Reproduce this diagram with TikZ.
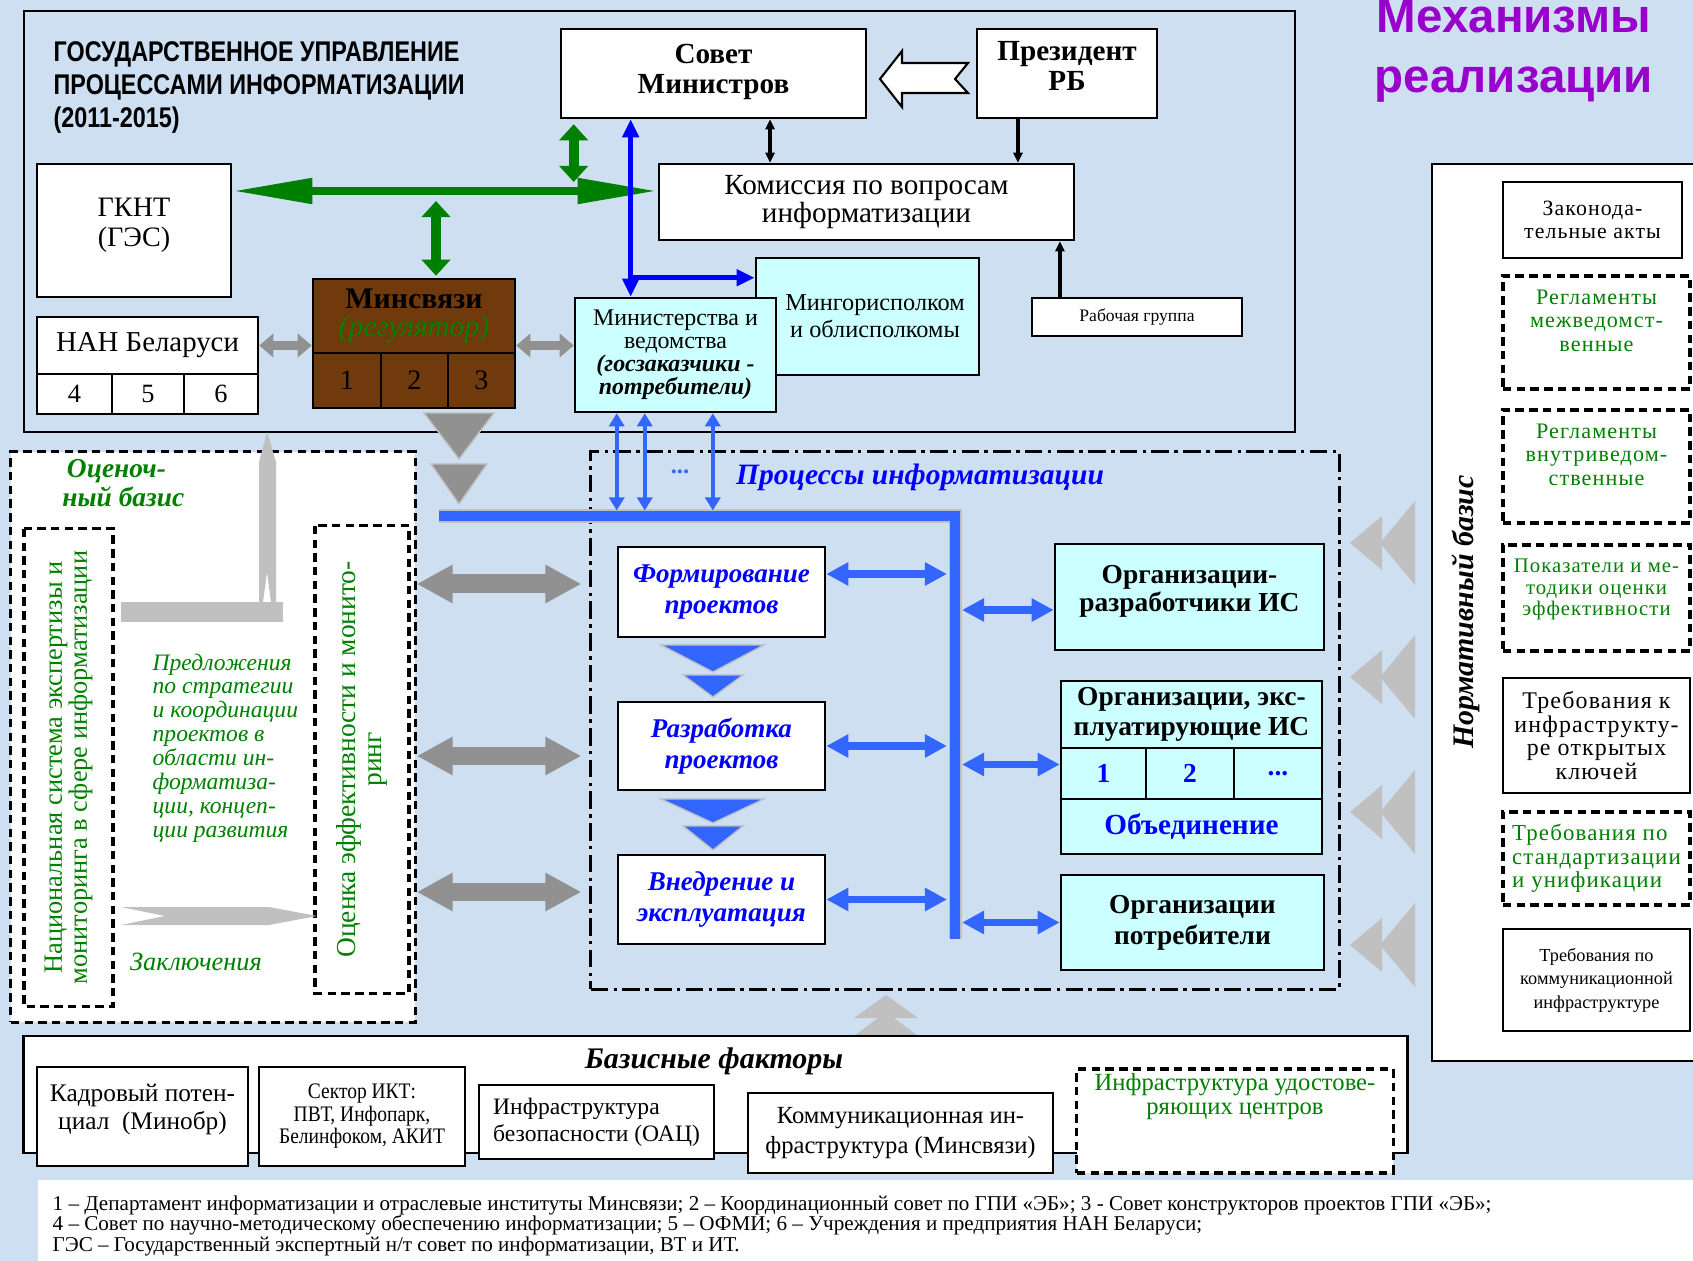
\documentclass[tikz,border=0pt]{standalone}
\usepackage{fontspec}
\setmainfont{Liberation Serif}
\newfontfamily\arialfont{Liberation Sans}
\newfontfamily\narrowsans[FakeStretch=0.82]{Liberation Sans}
\newfontfamily\narrowserif[FakeStretch=0.88]{Liberation Serif}
\newfontfamily\spacedserif[LetterSpace=5]{Liberation Serif}
\usetikzlibrary{arrows.meta}
\definecolor{bgblue}{RGB}{206,223,242}
\definecolor{cyanbox}{RGB}{204,255,255}
\definecolor{dgreen}{RGB}{0,128,0}
\definecolor{pblue}{RGB}{0,0,255}
\definecolor{lblue}{RGB}{51,102,255}
\definecolor{minbrown}{RGB}{112,58,12}
\definecolor{purp}{RGB}{153,0,204}
\definecolor{dgray}{RGB}{145,145,145}
\definecolor{lgray}{RGB}{192,192,192}
\begin{document}
\begin{tikzpicture}[x=0.01cm, y=-0.01cm,
  box/.style={draw, line width=0.7pt, fill=white, align=center, inner sep=1pt},
  cbox/.style={box, fill=cyanbox},
  dbox/.style={box, dash pattern=on 2.4pt off 1.5pt, line width=0.9pt},
  garr/.style={draw=dgreen, line width=2.3pt, {Triangle[length=8mm,width=2.4mm]}-{Triangle[length=8mm,width=2.4mm]}},
  gvarr/.style={draw=dgreen, line width=2.8pt, {Triangle[length=1.6mm,width=2.8mm]}-{Triangle[length=1.6mm,width=2.8mm]}},
  grarr/.style={draw=dgray, line width=2.8pt, {Triangle[length=1.4mm,width=2.3mm]}-{Triangle[length=1.4mm,width=2.3mm]}},
  bgarr/.style={draw=dgray, line width=5.4pt, {Triangle[length=3.6mm,width=3.6mm]}-{Triangle[length=3.6mm,width=3.6mm]}},
  sarr/.style={draw=lblue, line width=1.2pt, {Triangle[length=1.3mm,width=1.5mm]}-{Triangle[length=1.3mm,width=1.5mm]}},
  parr/.style={draw=lblue, line width=2pt, {Triangle[length=2.2mm,width=2.2mm]}-{Triangle[length=2.2mm,width=2.2mm]}},
  karr/.style={line width=0.9pt, -{Triangle[length=1mm,width=0.9mm]}}]
\fill[bgblue] (0,0) rectangle (1693,1261);
\useasboundingbox (0,0) rectangle (1693,1261);
\fill[white] (38,1180) rectangle (1693,1261);
\draw[line width=0.7pt] (24,11) rectangle (1295,432);
\node[anchor=north west, inner sep=0, align=left, font=\narrowsans\bfseries\fontsize{8.1}{9.4}\selectfont] (gtitle) at (53,41) {ГОСУДАРСТВЕННОЕ УПРАВЛЕНИЕ\\ПРОЦЕССАМИ ИНФОРМАТИЗАЦИИ\\(2011-2015)};
\node[anchor=north, inner sep=0, align=center, text=purp, font=\arialfont\bfseries\fontsize{13.5}{17}\selectfont] (mech) at (1514,-1) {Механизмы\\реализации};
\node[box, minimum width=3.05cm, minimum height=0.89cm, font=\bfseries\fontsize{8.3}{8.5}\selectfont] (sov) at (713.5,73.5) {Совет\\Министров\\[-2.1mm]};
\node[box, minimum width=1.8cm, minimum height=0.89cm, font=\bfseries\fontsize{8.3}{8.5}\selectfont] (pres) at (1067,73.5) {Президент\\РБ\\[-1.5mm]};
\node[box, minimum width=4.15cm, minimum height=0.76cm, font=\fontsize{8.3}{8}\selectfont] (kom) at (866.5,202) {Комиссия по вопросам\\информатизации};
\node[box, minimum width=2.1cm, minimum height=0.38cm, font=\fontsize{5}{6}\selectfont] (rab) at (1137,317) {Рабочая группа};
\node[box, minimum width=1.94cm, minimum height=1.33cm, font=\fontsize{8}{8.5}\selectfont] (gknt) at (134,230.5) {ГКНТ\\(ГЭС)\\[-1.4mm]};
\node[box, minimum width=2.21cm, minimum height=0.57cm, font=\fontsize{8.2}{9}\selectfont] (nan) at (147.5,345.5) {НАН Беларуси};
\node[box, minimum width=0.75cm, minimum height=0.4cm, font=\fontsize{7.5}{8}\selectfont] (n4) at (74.5,394) {4};
\node[box, minimum width=0.72cm, minimum height=0.4cm, font=\fontsize{7.5}{8}\selectfont] (n5) at (148,394) {5};
\node[box, minimum width=0.74cm, minimum height=0.4cm, font=\fontsize{7.5}{8}\selectfont] (n6) at (221,394) {6};
\node[box, fill=minbrown, text=black, minimum width=2.02cm, minimum height=0.74cm, font=\bfseries\fontsize{8.5}{8}\selectfont] (minsv) at (414,316) {Минсвязи\\\textcolor{dgreen}{\mdseries\itshape(регулятор)}};
\node[box, fill=minbrown, text=black, minimum width=0.68cm, minimum height=0.55cm, font=\fontsize{8}{8}\selectfont] (m1) at (347,380.5) {1};
\node[box, fill=minbrown, text=black, minimum width=0.67cm, minimum height=0.55cm, font=\fontsize{8}{8}\selectfont] (m2) at (414.5,380.5) {2};
\node[box, fill=minbrown, text=black, minimum width=0.67cm, minimum height=0.55cm, font=\fontsize{8}{8}\selectfont] (m3) at (481.5,380.5) {3};
\node[cbox, minimum width=2.23cm, minimum height=1.17cm, font=\fontsize{6.9}{7.7}\selectfont] (mingor) at (867.5,316.5) {\hspace*{1.5mm}Мингорисполком\\\hspace*{1.5mm}и облисполкомы};
\node[cbox, minimum width=2.01cm, minimum height=1.14cm, font=\fontsize{6.8}{6.5}\selectfont] (minist) at (675.5,355) {Министерства и\\ведомства\\\textbf{\textit{(госзаказчики -}}\\\textbf{\textit{потребители)}}};
\draw[fill=white, line width=0.6pt] (880,79) -- (902,51) -- (902,63) -- (968,63) -- (955,79) -- (968,93) -- (902,93) -- (902,107) -- cycle;
\draw[karr, {Triangle[length=1mm,width=0.9mm]}-{Triangle[length=1mm,width=0.9mm]}] ([xshift=5.65mm]sov.south) -- ([xshift=5.65mm]sov.south |- kom.north);
\draw[karr] ([xshift=-4.9mm]pres.south) -- ([xshift=-4.9mm]pres.south |- kom.north);
\draw[karr] ([xshift=-7.7mm]rab.north) -- ([xshift=-7.7mm]rab.north |- kom.south);
\coordinate (gy) at ([yshift=1.1mm]kom.west);
\draw[garr] (gknt.east |- gy) -- (gy);
\draw[gvarr, shorten <=0.5mm, shorten >=0.9mm] ([xshift=1.4mm]sov.south west) -- ([xshift=1.4mm]sov.south west |- gy);
\draw[gvarr, shorten <=1mm, shorten >=0.2mm] ([xshift=2.2mm]minsv.north |- gy) -- ([xshift=2.2mm]minsv.north);
\coordinate (bx) at ([xshift=7.1mm]sov.south west);
\coordinate (bj) at ([yshift=-2.1mm]mingor.north west);
\draw[draw=pblue, line width=1.5pt, {Triangle[length=1.8mm,width=1.6mm]}-{Triangle[length=1.8mm,width=1.6mm]}] (bx) -- (bx |- minist.north);
\draw[draw=pblue, line width=1.5pt, -{Triangle[length=1.8mm,width=1.6mm]}] (bx |- bj) -- (bj);
\draw[grarr] (nan.east) -- (nan.east -| minsv.west);
\draw[grarr] (minsv.east |- nan.east) -- (minist.west |- nan.east);
\node[dbox, minimum width=4.04cm, minimum height=5.7cm] (ocb) at (213,737) {};
\node[anchor=west, align=left, text=dgreen, font=\bfseries\itshape\fontsize{7.8}{6.4}\selectfont] (ocbt) at (50,483) {\,Оценоч-\\ный базис};
\node[dbox, rotate=90, minimum width=4.77cm, minimum height=0.89cm, text=dgreen, font=\fontsize{7.5}{7.1}\selectfont] (nat) at (68.5,767.5) {Национальная система экспертизы и\\мониторинга в сфере информатизации};
\node[dbox, rotate=90, minimum width=4.67cm, minimum height=0.94cm, text=dgreen, font=\fontsize{7.8}{7.5}\selectfont] (oce) at (362,759.5) {Оценка эффективности и монито-\\ринг};
\fill[lgray] (121,602) rectangle (283,622);
\fill[lgray] (267,432) -- (276,462) -- (276,602) -- (271,602) -- (267,572) -- (263,602) -- (259,602) -- (259,462) -- cycle;
\fill[lgray] (121,907) -- (269,907) -- (317,916) -- (269,925) -- (121,925) -- (165,916) -- cycle;
\node[anchor=north west, align=left, inner sep=0, text=dgreen, font=\itshape\fontsize{6.7}{6.8}\selectfont] (prop) at (152,653) {Предложения\\по стратегии\\и координации\\проектов в\\области ин-\\форматиза-\\ции, концеп-\\ции развития};
\node[text=dgreen, font=\itshape\fontsize{7.5}{8}\selectfont] (zakl) at (196,962) {Заключения};
\filldraw[fill=dgray, draw=lgray] (424,413) -- (494,413) -- (459,459) -- cycle;
\filldraw[fill=dgray, draw=lgray] (431,464) -- (487,464) -- (459,504) -- cycle;
\node[draw, dash pattern=on 5pt off 1.5pt on 1pt off 1.5pt, line width=0.8pt, minimum width=7.48cm, minimum height=5.37cm] (proc) at (965,720.5) {};
\node[text=pblue, font=\bfseries\itshape\fontsize{8.4}{10}\selectfont] (proct) at (920,477) {Процессы информатизации};
\node[text=lblue, font=\bfseries\fontsize{7}{8}\selectfont] (dots) at (680,472) {...};
\coordinate (busl) at (439,516);
\coordinate (busc) at (955,516);
\coordinate (busb) at (955,939);
\draw[lgray, line width=3.7pt] (busl) -- (busc) -- (busb);
\draw[lblue, line width=3.1pt] (busl) -- (busc) -- (busb);
\draw[sarr, shorten >=0.55mm] ([xshift=4.3mm]minist.south west) -- ([xshift=4.3mm]minist.south west |- busl);
\draw[sarr, shorten >=0.55mm] ([xshift=7.1mm]minist.south west) -- ([xshift=7.1mm]minist.south west |- busl);
\draw[sarr, shorten >=0.55mm] ([xshift=13.9mm]minist.south west) -- ([xshift=13.9mm]minist.south west |- busl);
\node[box, minimum width=2.07cm, minimum height=0.9cm, text=pblue, font=\bfseries\itshape\fontsize{7.7}{8.8}\selectfont] (form) at (721.5,592) {Формирование\\проектов};
\node[box, minimum width=2.07cm, minimum height=0.88cm, text=pblue, font=\bfseries\itshape\fontsize{7.7}{8.8}\selectfont] (razr) at (721.5,746) {Разработка\\проектов};
\node[box, minimum width=2.07cm, minimum height=0.89cm, text=pblue, font=\bfseries\itshape\fontsize{7.7}{8.8}\selectfont] (vnedr) at (721.5,899.5) {Внедрение и\\эксплуатация};
\filldraw[fill=lblue, draw=lgray] (661,645) -- (764,645) -- (713,672) -- cycle;
\filldraw[fill=lblue, draw=lgray] (683,675) -- (743,675) -- (713,697) -- cycle;
\filldraw[fill=lblue, draw=lgray] (661,799) -- (764,799) -- (713,823) -- cycle;
\filldraw[fill=lblue, draw=lgray] (683,826) -- (743,826) -- (713,850) -- cycle;
\node[cbox, minimum width=2.69cm, minimum height=1.06cm, font=\bfseries\fontsize{7.8}{8}\selectfont] (orgr) at (1189.5,597) {Организации-\\разработчики ИС\\[-1.1mm]};
\node[cbox, minimum width=2.61cm, minimum height=0.67cm, font=\bfseries\fontsize{7.8}{8.6}\selectfont] (orget) at (1191.5,714.5) {Организации, экс-\\плуатирующие ИС};
\node[cbox, minimum width=0.85cm, minimum height=0.51cm, text=pblue, font=\bfseries\fontsize{7.8}{8}\selectfont] (e1) at (1103.5,773.5) {1};
\node[cbox, minimum width=0.88cm, minimum height=0.51cm, text=pblue, font=\bfseries\fontsize{7.8}{8}\selectfont] (e2) at (1190,773.5) {2};
\node[cbox, minimum width=0.88cm, minimum height=0.51cm, text=pblue, font=\bfseries\fontsize{7.8}{8}\selectfont] (e3) at (1278,773.5) {...};
\node[cbox, minimum width=2.61cm, minimum height=0.55cm, text=pblue, font=\bfseries\fontsize{8.3}{9}\selectfont] (orgo) at (1191.5,826.5) {Объединение};
\node[cbox, minimum width=2.63cm, minimum height=0.95cm, font=\bfseries\fontsize{7.8}{8.8}\selectfont] (orgp) at (1192.5,922.5) {Организации\\потребители};
\draw[parr, shorten >=0.8mm] ([yshift=1.8mm]form.east) -- ([yshift=1.8mm]form.east -| busc);
\draw[parr, shorten >=0.8mm] (razr.east) -- (razr.east -| busc);
\draw[parr, shorten >=0.8mm] (vnedr.east) -- (vnedr.east -| busc);
\draw[parr, shorten <=0.7mm] ([yshift=-1.3mm]orgr.west -| busc) -- ([yshift=-1.3mm]orgr.west);
\draw[parr, shorten <=0.7mm] ([yshift=0.9mm]e1.west -| busc) -- ([yshift=0.9mm]e1.west);
\draw[parr, shorten <=0.7mm] (orgp.west -| busc) -- (orgp.west);
\draw[bgarr, shorten >=0.8mm] ([yshift=0.8mm]form.west -| ocb.east) -- ([yshift=0.8mm]form.west -| proc.west);
\draw[bgarr, shorten >=0.8mm] ([yshift=-1mm]razr.west -| ocb.east) -- ([yshift=-1mm]razr.west -| proc.west);
\draw[bgarr, shorten >=0.8mm] ([yshift=0.75mm]vnedr.west -| ocb.east) -- ([yshift=0.75mm]vnedr.west -| proc.west);
\fill[lgray] (1350,543) -- (1382,516) -- (1382,570) -- cycle;
\fill[lgray] (1380,543) -- (1415,501) -- (1415,585) -- cycle;
\fill[lgray] (1350,677) -- (1382,650) -- (1382,704) -- cycle;
\fill[lgray] (1380,677) -- (1415,635) -- (1415,719) -- cycle;
\fill[lgray] (1350,812) -- (1382,785) -- (1382,839) -- cycle;
\fill[lgray] (1380,812) -- (1415,770) -- (1415,854) -- cycle;
\fill[lgray] (1350,945) -- (1382,918) -- (1382,972) -- cycle;
\fill[lgray] (1380,945) -- (1415,903) -- (1415,987) -- cycle;
\node[box, minimum width=2.7cm, minimum height=8.97cm] (norm) at (1567,612.5) {};
\node[rotate=90, font=\bfseries\itshape\fontsize{8.5}{9}\selectfont] (normt) at (1466,612) {Нормативный базис};
\node[box, minimum width=1.79cm, minimum height=0.76cm, font=\spacedserif\fontsize{6.2}{6.6}\selectfont] (zak) at (1592.5,220) {Законода-\\тельные акты};
\node[dbox, minimum width=1.87cm, minimum height=1.13cm, text=dgreen, font=\spacedserif\fontsize{6.3}{6.7}\selectfont] (mezh) at (1596.5,332.5) {Регламенты\\межведомст-\\венные\\[0pt]};
\node[dbox, minimum width=1.87cm, minimum height=1.13cm, text=dgreen, font=\spacedserif\fontsize{6.3}{6.7}\selectfont] (vnut) at (1596.5,466.5) {Регламенты\\внутриведом-\\ственные\\[0pt]};
\node[dbox, minimum width=1.87cm, minimum height=1.06cm, text=dgreen, font=\spacedserif\fontsize{5.9}{6.1}\selectfont] (pok) at (1596.5,598) {Показатели и ме-\\тодики оценки\\эффективности\\[0pt]};
\node[box, minimum width=1.87cm, minimum height=1.15cm, font=\spacedserif\fontsize{6.8}{6.7}\selectfont] (treb1) at (1596.5,735.5) {Требования к\\инфраструкту-\\ре открытых\\ключей};
\node[dbox, minimum width=1.87cm, minimum height=0.93cm, text=dgreen, align=left, font=\spacedserif\fontsize{6.5}{6.7}\selectfont] (treb2) at (1596.5,858.5) {Требования по\\стандартизации\\и унификации};
\node[box, minimum width=1.87cm, minimum height=1.02cm, font=\fontsize{5.2}{6.7}\selectfont] (treb3) at (1596.5,980) {Требования по\\коммуникационной\\инфраструктуре};
\fill[lgray] (886,995) -- (918,1018) -- (854,1018) -- cycle;
\fill[lgray] (886,1012) -- (918,1036) -- (854,1036) -- cycle;
\node[box, minimum width=13.83cm, minimum height=1.17cm] (baz) at (715.5,1094.5) {};
\node[font=\bfseries\itshape\fontsize{8.5}{9}\selectfont] (bazt) at (714,1061) {Базисные факторы};
\node[box, minimum width=2.11cm, minimum height=0.99cm, font=\fontsize{7.2}{8}\selectfont] (f1) at (142.5,1116.5) {Кадровый потен-\\циал~~(Минобр)\\[-0.8mm]};
\node[box, minimum width=2.06cm, minimum height=0.99cm, font=\narrowserif\fontsize{6.3}{6.4}\selectfont] (f2) at (362,1116.5) {Сектор ИКТ:\\ПВТ, Инфопарк,\\Белинфоком, АКИТ};
\node[box, minimum width=2.35cm, minimum height=0.74cm, align=left, font=\fontsize{6.7}{7.7}\selectfont] (f3) at (596.5,1122) {Инфраструктура\\безопасности (ОАЦ)};
\node[box, minimum width=3.05cm, minimum height=0.8cm, font=\fontsize{7}{8.4}\selectfont] (f4) at (900.5,1133) {Коммуникационная ин-\\фраструктура (Минсвязи)};
\node[dbox, minimum width=3.16cm, minimum height=1.04cm, text=dgreen, font=\fontsize{7}{6.8}\selectfont] (f5) at (1235,1121) {Инфраструктура удостове-\\ряющих центров\\[3mm]};
\node[anchor=north west, align=left, inner sep=0, font=\fontsize{6}{5.8}\selectfont] (foot) at (52,1195) {1 – Департамент информатизации и отраслевые институты Минсвязи; 2 – Координационный совет по ГПИ «ЭБ»; 3 - Совет конструкторов проектов ГПИ «ЭБ»;\\4 – Совет по научно-методическому обеспечению информатизации; 5 – ОФМИ; 6 – Учреждения и предприятия НАН Беларуси;\\ГЭС – Государственный экспертный н/т совет по информатизации, ВТ и ИТ.};
\end{tikzpicture}
\end{document}
